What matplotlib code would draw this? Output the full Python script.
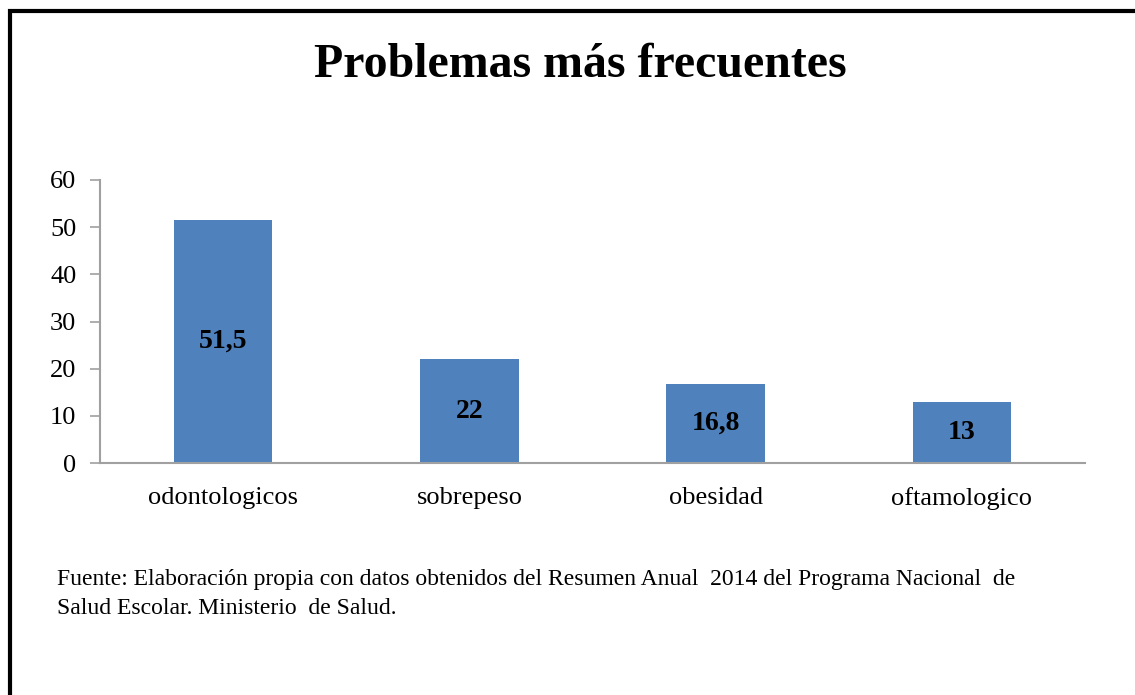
import matplotlib
matplotlib.use("Agg")
import matplotlib.pyplot as plt
from matplotlib.patches import Rectangle

categories = ["odontologicos", "sobrepeso", "obesidad", "oftamologico"]
values = [51.5, 22, 16.8, 13]
value_labels = ["51,5", "22", "16,8", "13"]
yticks = [0, 10, 20, 30, 40, 50, 60]

plt.rcParams['font.family'] = ['Liberation Serif', 'DejaVu Serif']

W, H = 1135, 695
fig = plt.figure(figsize=(W / 100, H / 100), dpi=100)

# frame (left/top visible)
fig.patches.append(Rectangle((10 / W, -0.1), 1.2, (H - 11) / H + 0.1, transform=fig.transFigure,
                             fill=False, edgecolor='black', linewidth=3))

ax = fig.add_axes([100 / W, 1 - 463 / H, (1085 - 100) / W, (463 - 180) / H])
x = list(range(len(categories)))
ax.bar(x, values, width=0.4, color='#4F81BD', zorder=2)
ax.set_xlim(-0.5, len(categories) - 0.5)
ax.set_ylim(0, 60)
ax.set_yticks(yticks)
ax.set_yticklabels([str(v) for v in yticks], fontsize=19)
ax.set_xticks(x)
ax.set_xticklabels(categories, fontsize=19)
ax.tick_params(axis='x', length=0, pad=17)
ax.tick_params(axis='y', length=7, color='#A0A0A0', width=1.2, pad=10)
for s in ['top', 'right']:
    ax.spines[s].set_visible(False)
for s in ['left', 'bottom']:
    ax.spines[s].set_color('#A0A0A0')
    ax.spines[s].set_linewidth(1.5)

for xi, v, lab in zip(x, values, value_labels):
    ax.text(xi, v / 2, lab, ha='center', va='center', fontsize=20, fontweight='bold', color='black')

fig.text(580 / W, 1 - 65 / H, "Problemas más frecuentes", ha='center', va='center',
         fontsize=34.5, fontweight='bold')

fig.text(57 / W, 1 - 594 / H,
         "Fuente: Elaboración propia con datos obtenidos del Resumen Anual  2014 del Programa Nacional  de\n"
         "Salud Escolar. Ministerio  de Salud.",
         ha='left', va='center', fontsize=17, linespacing=1.45)

fig.savefig("out.png", dpi=100)
